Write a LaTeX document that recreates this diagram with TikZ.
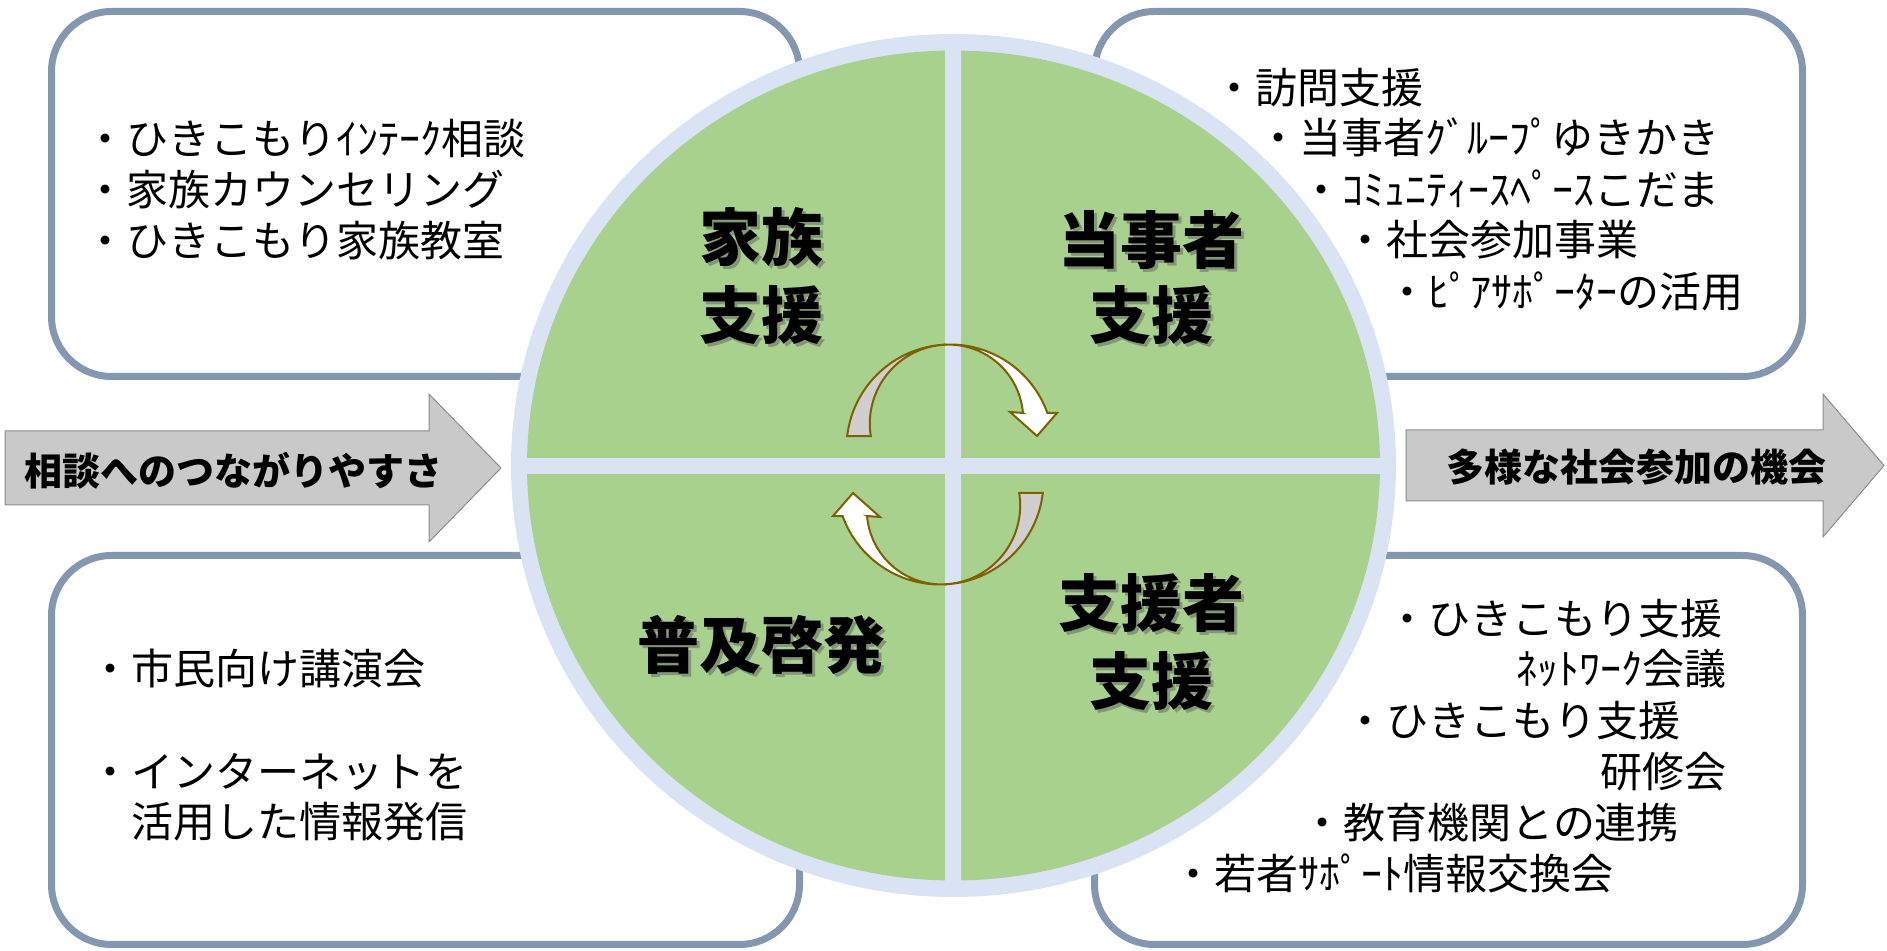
\documentclass[tikz,border=0pt]{standalone}
\usepackage{fontspec}
\setmainfont{Noto Sans CJK JP}
\definecolor{boxborder}{HTML}{8497B0}
\definecolor{ringblue}{HTML}{DAE3F3}
\definecolor{quadgreen}{HTML}{A9D18E}
\definecolor{arrowgray}{HTML}{C9C9C9}
\definecolor{arrowedge}{HTML}{8C8C8C}
\definecolor{cycbrown}{HTML}{7F6000}
\definecolor{cycgray}{HTML}{D0CECE}
\tikzset{
  infobox/.style={draw=boxborder, line width=3.5pt, fill=white, rounded corners=30pt},
  bigarrow/.style={draw=arrowedge, line width=0.5pt, fill=arrowgray},
  arrowtext/.style={inner sep=0pt, text height=15.9pt, text depth=1.5pt, font=\bfseries\fontsize{19}{22}\selectfont},
  itemtext/.style={inner sep=0pt, anchor=west, text height=17.6pt, text depth=1.7pt, font=\fontsize{21}{25}\selectfont},
  quadlabel/.style={inner sep=0pt, text height=26pt, text depth=2.5pt, font=\bfseries\fontsize{31}{39}\selectfont},
  quadshadow/.style={quadlabel, text=black!60, opacity=0.55},
  cycarrow/.style={draw=cycbrown, line width=1pt, line join=miter},
}
\begin{document}
\begin{tikzpicture}[x=0.5pt,y=-0.5pt]
\useasboundingbox (0,0) rectangle (1887,951);

% information boxes
\draw[infobox] (51.5,11.5) rectangle (799.5,376.5);
\draw[infobox] (1094.5,11.5) rectangle (1802.5,376.5);
\draw[infobox] (51.5,555.5) rectangle (799.5,944.5);
\draw[infobox] (1094.5,555.5) rectangle (1802.5,944.5);

% big arrows
\draw[bigarrow] (5,431) -- (429,431) -- (429,394) -- (501,468) -- (429,542) -- (429,505) -- (5,505) -- cycle;
\draw[bigarrow] (1406,430) -- (1823,430) -- (1823,394) -- (1884,465.5) -- (1823,537) -- (1823,501) -- (1406,501) -- cycle;
\node[arrowtext] (leftlabel) at (234,471) {相談へのつながりやすさ};
\node[arrowtext] (rightlabel) at (1636,467) {多様な社会参加の機会};

% circle
\fill[ringblue] (953.5,465.5) ellipse [x radius=221.25pt, y radius=215.75pt];
\fill[quadgreen] (953.5,465.5) ellipse [x radius=213.25pt, y radius=207.5pt];
\fill[ringblue] (945,45) rectangle (961,886);
\fill[ringblue] (520,458) rectangle (1387,474);

% quadrant labels with shadow
\node[quadshadow] (s1a) at (764.5,240.5) {家族};
\node[quadshadow] (s1b) at (764.5,318.5) {支援};
\node[quadlabel] (q1a) at (761.5,237.5) {家族};
\node[quadlabel] (q1b) at (761.5,315.5) {支援};
\node[quadshadow] (s2a) at (1154,243) {当事者};
\node[quadshadow] (s2b) at (1154,318) {支援};
\node[quadlabel] (q2a) at (1151,240) {当事者};
\node[quadlabel] (q2b) at (1151,315) {支援};
\node[quadshadow] (s3) at (764,648) {普及啓発};
\node[quadlabel] (q3) at (761,645) {普及啓発};
\node[quadshadow] (s4a) at (1154,606) {支援者};
\node[quadshadow] (s4b) at (1154,684) {支援};
\node[quadlabel] (q4a) at (1151,603) {支援者};
\node[quadlabel] (q4b) at (1151,681) {支援};

% circular arrows
\filldraw[cycarrow, fill=cycgray]
  plot[domain=186.6:267.2, samples=40] ({950+103.5*cos(\x)}, {448+103.5*sin(\x)})
  -- plot[domain=267.2:170.9, samples=40] ({948.8+79*cos(\x)}, {423.6+79*sin(\x)}) -- cycle;
\filldraw[cycarrow, fill=white]
  plot[domain=267.2:340.2, samples=40] ({950+103.5*cos(\x)}, {448+103.5*sin(\x)})
  -- (1057,413) -- (1037,436) -- (1010,412) -- (1023,413)
  -- plot[domain=355.2:267.2, samples=40] ({948.6+74.6*cos(\x)}, {419.2+74.6*sin(\x)}) -- cycle;
\begin{scope}[rotate around={180:(945,464.5)}]
\filldraw[cycarrow, fill=cycgray]
  plot[domain=186.6:267.2, samples=40] ({950+103.5*cos(\x)}, {448+103.5*sin(\x)})
  -- plot[domain=267.2:170.9, samples=40] ({948.8+79*cos(\x)}, {423.6+79*sin(\x)}) -- cycle;
\filldraw[cycarrow, fill=white]
  plot[domain=267.2:340.2, samples=40] ({950+103.5*cos(\x)}, {448+103.5*sin(\x)})
  -- (1057,413) -- (1037,436) -- (1010,412) -- (1023,413)
  -- plot[domain=355.2:267.2, samples=40] ({948.6+74.6*cos(\x)}, {419.2+74.6*sin(\x)}) -- cycle;
\end{scope}

% box texts
\node[itemtext] (tl1) at (84,139) {・ひきこもりｲﾝﾃｰｸ相談};
\node[itemtext] (tl2) at (84,190) {・家族カウンセリング};
\node[itemtext] (tl3) at (84,241) {・ひきこもり家族教室};

\node[itemtext] (tr1) at (1213,88) {・訪問支援};
\node[itemtext] (tr2) at (1257,138) {・当事者ｸﾞﾙｰﾌﾟゆきかき};
\node[itemtext] (tr3) at (1300,190) {・ｺﾐｭﾆﾃｨｰｽﾍﾟｰｽこだま};
\node[itemtext] (tr4) at (1344,240) {・社会参加事業};
\node[itemtext] (tr5) at (1386,292) {・ﾋﾟｱｻﾎﾟｰﾀｰの活用};

\node[itemtext] (bl1) at (89,669) {・市民向け講演会};
\node[itemtext] (bl2) at (89,772) {・インターネットを};
\node[itemtext] (bl3) at (131,822) {活用した情報発信};

\node[itemtext] (br1) at (1386,619) {・ひきこもり支援};
\node[itemtext, anchor=east] (br2) at (1727,669) {ﾈｯﾄﾜｰｸ会議};
\node[itemtext] (br3) at (1344,721) {・ひきこもり支援};
\node[itemtext, anchor=east] (br4) at (1727,772) {研修会};
\node[itemtext] (br5) at (1301,823) {・教育機関との連携};
\node[itemtext] (br6) at (1172,874) {・若者ｻﾎﾟｰﾄ情報交換会};
\end{tikzpicture}
\end{document}
